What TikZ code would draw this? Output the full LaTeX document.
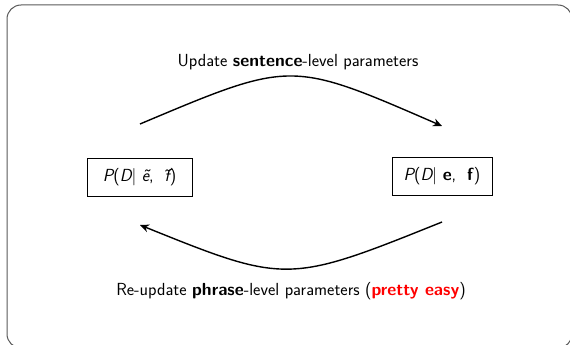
\documentclass[tikz,border=0pt]{standalone}
\usepackage{fontspec}
\usetikzlibrary{arrows.meta}
\begin{document}
\begin{tikzpicture}[x=1pt,y=-1pt,
  lbl/.style={font=\sffamily\fontsize{17.5}{20}\selectfont, inner sep=0pt},
  pbox/.style={draw, line width=0.8pt, font=\sffamily\fontsize{17.5}{20}\selectfont, minimum height=38pt, inner sep=4pt},
  flow/.style={line width=1.4pt, -{Stealth[length=9pt,width=8pt,inset=3pt]}}]
\useasboundingbox (0,0) rectangle (570,345);
\draw[gray!70!black, line width=1pt, rounded corners=14pt] (7,5) rectangle (572,348);
\node[pbox, minimum width=105pt] (L) at (139.5,177) {\itshape P\upshape(\itshape D\upshape$|$\ \itshape\~{e}\upshape,\ \ \itshape\~{f}\upshape)};
\node[pbox, minimum width=100pt] (R) at (442,176.5) {\itshape P\upshape(\itshape D\upshape$|$\ \textbf{e},\ \ \textbf{f})};
\node[lbl] (top) at (298,62) {Update \textbf{sentence}-level parameters};
\node[lbl] (bot) at (291,291) {Re-update \textbf{phrase}-level parameters (\textcolor{red}{\textbf{pretty easy}})};
\coordinate (a1) at (140,124);
\coordinate (a2) at (442,126);
\coordinate (b1) at (442,222);
\coordinate (b2) at (140,225);
\draw[flow] (a1) .. controls (292,60) and (290,60) .. (a2);
\draw[flow] (b1) .. controls (288,284) and (286,284) .. (b2);
\end{tikzpicture}
\end{document}
